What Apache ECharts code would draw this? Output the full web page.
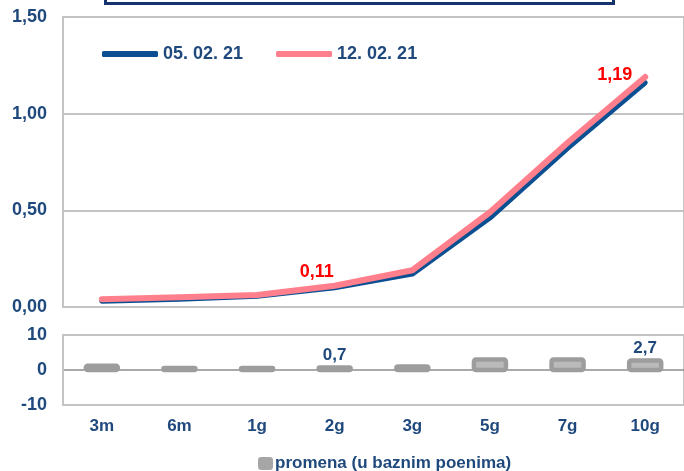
<!DOCTYPE html>
<html><head><meta charset="utf-8">
<script src="https://cdn.jsdelivr.net/npm/echarts@6/dist/echarts.min.js"></script>
<style>html,body{margin:0;padding:0;background:#fff}#c{width:684px;height:471px}</style>
</head><body><div id="c"></div>
<script>
var categories = ['3m','6m','1g','2g','3g','5g','7g','10g'];
var series1Name = '05. 02. 21';
var series2Name = '12. 02. 21';
var series1 = [0.03, 0.04, 0.055, 0.10, 0.17, 0.46, 0.82, 1.16];
var series2 = [0.04, 0.05, 0.062, 0.11, 0.19, 0.49, 0.85, 1.19];
var series2Labeled = ['2g', '10g'];
var changeName = 'promena (u baznim poenima)';
var change = [1.2, 0.6, 0.6, 0.7, 1.0, 3.0, 3.0, 2.7];
var changeLabeled = ['2g', '10g'];
var upperTicks = [0, 0.5, 1.0, 1.5];
var lowerTicks = [-10, 0, 10];

var FONT = 'Liberation Sans, Arial, sans-serif';
var TXT = '#1f497d';
var GRID = '#c4c4c4';
var BLUE = '#0b4f93';
var PINK = '#ff7f8c';

function fmt2(v){ return v.toFixed(2).replace('.', ','); }
function fmt1(v){ return v.toFixed(1).replace('.', ','); }

var chart = echarts.init(document.getElementById('c'), null, {renderer:'canvas'});
chart.setOption({
  animation: false,
  backgroundColor: '#fff',
  graphic: [{
    type: 'rect', left: 104, top: -24,
    shape: {width: 508, height: 26},
    style: {fill: '#fff', stroke: '#15336d', lineWidth: 3}
  }],
  legend: [{
    data: [
      {name: series1Name, itemStyle: {color: BLUE, opacity: 1}},
      {name: series2Name, itemStyle: {color: PINK, opacity: 1}}
    ],
    left: 97, top: 40,
    itemWidth: 56, itemHeight: 6, itemGap: 33,
    icon: 'roundRect',
    textStyle: {color: TXT, fontSize: 18, fontWeight: 'bold', fontFamily: FONT}
  }, {
    data: [{name: changeName, itemStyle: {color: '#a6a6a6', borderWidth: 0}}],
    left: 253, top: 450,
    itemWidth: 15, itemHeight: 13,
    icon: 'roundRect',
    textStyle: {color: TXT, fontSize: 17, fontWeight: 'bold', fontFamily: FONT, padding: [0,0,0,-3]}
  }],
  grid: [
    {left: 63, right: -7, top: 17, height: 290, show: true, borderColor: GRID, borderWidth: 2},
    {left: 63, right: -7, top: 335, height: 70, show: true, borderColor: GRID, borderWidth: 2}
  ],
  xAxis: [
    {type: 'category', gridIndex: 0, data: categories, boundaryGap: true,
     axisLine: {show: true, lineStyle: {color: GRID, width: 2}}, axisTick: {show: false}, axisLabel: {show: false}},
    {type: 'category', gridIndex: 1, data: categories, boundaryGap: true, position: 'bottom',
     axisLine: {show: false, onZero: false}, axisTick: {show: false},
     axisLabel: {color: TXT, fontSize: 17, fontWeight: 'bold', fontFamily: FONT, margin: 13}}
  ],
  yAxis: [
    {type: 'value', gridIndex: 0, min: upperTicks[0], max: upperTicks[upperTicks.length-1], interval: 0.5,
     axisLine: {show: true, lineStyle: {color: GRID, width: 2}}, axisTick: {show: false},
     splitLine: {show: true, lineStyle: {color: GRID, width: 2}},
     axisLabel: {color: TXT, fontSize: 18, fontWeight: 'bold', fontFamily: FONT, margin: 16, formatter: fmt2}},
    {type: 'value', gridIndex: 1, min: lowerTicks[0], max: lowerTicks[lowerTicks.length-1], interval: 10,
     axisLine: {show: true, lineStyle: {color: GRID, width: 2}}, axisTick: {show: false},
     splitLine: {show: true, lineStyle: {color: [GRID, '#8c8c8c', GRID], width: 1.5}},
     axisLabel: {color: TXT, fontSize: 18, fontWeight: 'bold', fontFamily: FONT, margin: 16}}
  ],
  series: [
    {name: series1Name, type: 'line', xAxisIndex: 0, yAxisIndex: 0, data: series1,
     showSymbol: false, symbol: 'none', color: BLUE,
     lineStyle: {width: 5, color: BLUE, cap: 'round', join: 'round'}},
    {name: series2Name, type: 'line', xAxisIndex: 0, yAxisIndex: 0,
     data: series2.map(function(v, i){
       var d = {value: v};
       if (categories[i] === series2Labeled[0]) d.label = {show: true, position: 'top', distance: 8, offset: [-18, 4]};
       if (categories[i] === series2Labeled[1]) d.label = {show: true, position: 'left', distance: 12, offset: [0, -2]};
       return d;
     }),
     showSymbol: true, symbol: 'circle', symbolSize: 2,
     itemStyle: {color: 'rgba(0,0,0,0)', borderWidth: 0}, color: PINK,
     lineStyle: {width: 6, color: PINK, cap: 'round', join: 'round'},
     label: {show: false, color: '#ff0000', fontSize: 18, fontWeight: 'bold', fontFamily: FONT,
             formatter: function(p){ return fmt2(p.value); }}},
    {name: changeName, type: 'custom', xAxisIndex: 1, yAxisIndex: 1,
     data: change.map(function(v, i){ return [i, v]; }),
     encode: {x: 0, y: 1},
     renderItem: function(params, api){
       var idx = api.value(0), v = api.value(1);
       var p0 = api.coord([idx, 0]);
       var p1 = api.coord([idx, v]);
       var w = 32;
       var top = Math.min(p0[1], p1[1]);
       var h = Math.abs(p0[1] - p1[1]);
       var children = [{
         type: 'rect',
         shape: {x: p0[0] - w/2, y: top, width: w, height: h, r: 2},
         style: {fill: '#bababa', stroke: '#9d9d9d', lineWidth: 4.5}
       }];
       if (changeLabeled.indexOf(categories[idx]) >= 0) {
         children.push({
           type: 'text',
           style: {x: p0[0], y: top - 4, text: fmt1(v), fill: TXT,
                   font: 'bold 17px ' + FONT, textAlign: 'center', textVerticalAlign: 'bottom'}
         });
       }
       return {type: 'group', children: children};
     }}
  ]
});
</script></body></html>
